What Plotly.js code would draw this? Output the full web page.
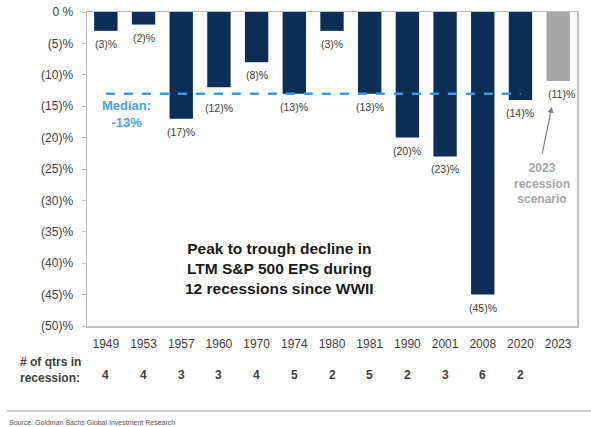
<!DOCTYPE html>
<html><head><meta charset="utf-8">
<script src="https://cdn.plot.ly/plotly-3.0.1.min.js"></script>
<style>html,body{margin:0;padding:0;background:#fff;}#chart{width:591px;height:427px;}</style>
</head><body><div id="chart"></div>
<script>
const years = ["1949","1953","1957","1960","1970","1974","1980","1981","1990","2001","2008","2020","2023"];
const declines = [-3,-2,-17,-12,-8,-13,-3,-13,-20,-23,-45,-14,-11];
const quarters = ["4","4","3","3","4","5","2","5","2","3","6","2",""];
const medianValue = -13;
const yTickVals = [0,-5,-10,-15,-20,-25,-30,-35,-40,-45,-50];
const yTickText = ["0 %","(5)%","(10)%","(15)%","(20)%","(25)%","(30)%","(35)%","(40)%","(45)%","(50)%"];

const FONT = "Liberation Sans, Arial";
const barColors = years.map(y => y === "2023" ? "#a6a6a6" : "#0c2d56");
const labels = declines.map(v => "(" + Math.abs(v) + ")%");

const traces = [
  {type:"bar", x:years, y:declines, marker:{color:barColors}, width:0.62, hoverinfo:"skip"},
  {type:"scatter", mode:"lines", x:[years[0], years[11]], y:[medianValue, medianValue],
   line:{color:"#3d9be3", width:2.5, dash:"dash"}, hoverinfo:"skip"}
];

const annotations = [
  {xref:"x", yref:"y", x:0.55, y:-13.4, text:"<b>Median:<br>-13%</b>", showarrow:false,
   font:{size:13, color:"#4aa3e8", family:FONT}, align:"center", yanchor:"top"},
  {xref:"x", yref:"y", x:4.62, y:-40.9, text:"<b>Peak to trough decline in<br>LTM S&amp;P 500 EPS during<br>12 recessions since WWII</b>",
   showarrow:false, font:{size:15.5, color:"#1a1a1a", family:FONT}, align:"center"},
  {xref:"x", yref:"y", x:11.57, y:-27.3, text:"<b>2023<br>recession<br>scenario</b>",
   showarrow:false, font:{size:12, color:"#a6a6a6", family:FONT}, align:"center"},
  {xref:"x", yref:"y", x:11.83, y:-15.1, ax:11.57, ay:-22.8, axref:"x", ayref:"y", text:"",
   showarrow:true, arrowhead:2, arrowsize:1, arrowwidth:1.2, arrowcolor:"#7f7f7f"},
  {xref:"paper", yref:"paper", x:-0.14, y:-0.14, text:"<b># of qtrs in<br>recession:</b>", showarrow:false,
   xanchor:"left", yanchor:"middle", font:{size:12, color:"#404040", family:FONT}, align:"left"},
  {xref:"paper", yref:"paper", x:-0.163, y:-0.306, text:"Source: Goldman Sachs Global Investment Research", showarrow:false,
   xanchor:"left", yanchor:"middle", font:{size:7, color:"#555", family:FONT}}
];
// value labels below each bar end
declines.forEach((v,i) => {
  annotations.push({xref:"x", yref:"y", x:i + (years[i]==="2023" ? 0.08 : 0), y:v, yanchor:"top",
    yshift:(years[i]==="1960" ? -13 : -5), text:labels[i], showarrow:false,
    font:{size:10.5, color:"#404040", family:FONT}});
});
quarters.forEach((q,i) => {
  annotations.push({xref:"x", yref:"paper", x:i, y:-0.156, yanchor:"middle", text:"<b>"+q+"</b>", showarrow:false,
    font:{size:12, color:"#404040", family:FONT}});
});

const layout = {
  width:591, height:427, margin:{l:87, r:14, t:12, b:101},
  paper_bgcolor:"#fff", plot_bgcolor:"#fff", showlegend:false, bargap:0.38,
  font:{family:FONT, color:"#404040"},
  xaxis:{type:"category", showline:true, linecolor:"#c0c0c0", linewidth:1.5, mirror:true,
    ticks:"", ticklabelstandoff:6, tickfont:{size:12, color:"#404040"}, showgrid:false, zeroline:false, range:[-0.5,12.5]},
  yaxis:{range:[-50,0], tickvals:yTickVals, ticktext:yTickText, showline:true, linecolor:"#c0c0c0", linewidth:1.5,
    mirror:true, ticks:"outside", ticklen:4, tickcolor:"#c0c0c0", ticklabelstandoff:6, tickfont:{size:12, color:"#404040"},
    showgrid:false, zeroline:false},
  shapes:[{type:"line", xref:"paper", yref:"paper", x0:-0.163, x1:1.03, y0:-0.27, y1:-0.27, line:{color:"#c0c0c0", width:1.5}}],
  annotations:annotations
};
Plotly.newPlot("chart", traces, layout, {displayModeBar:false, staticPlot:true});
</script></body></html>
